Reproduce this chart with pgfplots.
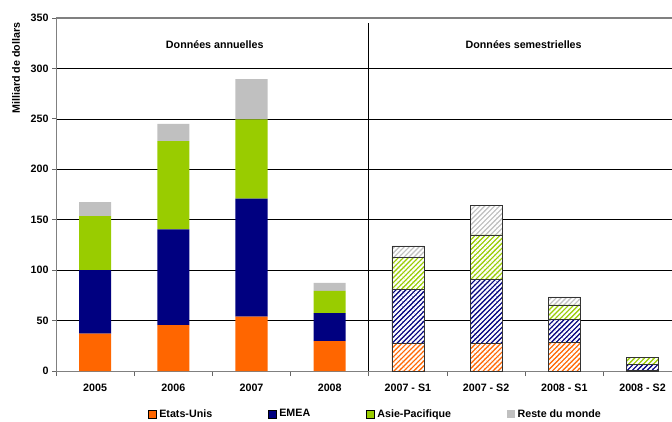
\documentclass[border=0pt]{standalone}
\usepackage{fontspec}
\setmainfont{Liberation Sans}
\usepackage{pgfplots}
\pgfplotsset{compat=1.18}
\usetikzlibrary{patterns.meta}
\definecolor{cUS}{RGB}{255,102,0}
\definecolor{cEMEA}{RGB}{0,0,128}
\definecolor{cAP}{RGB}{153,204,0}
\definecolor{cRM}{RGB}{192,192,192}
\newcommand{\ff}{\bfseries\fontsize{10.7}{12}\selectfont}
\pgfplotsset{
 common/.style={
  at={(56pt,50pt)}, anchor=south west,
  scale only axis, width=616pt, height=353pt,
  xmin=-0.5, xmax=7.377, ymin=0, ymax=350,
  ybar stacked, bar width=0.41,
 },
 hatch/.style={fill=#1, draw=black!80, line width=0.6pt,
   postaction={pattern={Lines[angle=45,distance=3.5pt,line width=2pt]}, pattern color=white}},
}
\begin{document}
\begin{tikzpicture}
\begin{axis}[common, clip=false,
  axis x line*=bottom, axis y line*=left,
  axis line style={draw=black!50, line width=1pt},
  ytick={0,50,...,350},
  ymajorgrids, grid style={black, line width=0.7pt},
  tick align=outside, major tick length=4pt,
  xtick={0,...,7},
  xticklabels={2005,2006,2007,2008,2007 - S1,2007 - S2,2008 - S1,2008 - S2},
  xtick style={draw=none},
  xticklabel style={yshift=-5pt},
  minor xtick={-0.5,0.5,...,6.5},
  minor tick length=5pt,
  minor x tick style={draw=black!60, line width=0.8pt},
  ytick style={draw=black!60, line width=0.8pt},
  tick label style={font=\ff},
  /pgf/number format/assume math mode=true,
  legend columns=4,
  legend entries={Etats-Unis,EMEA,Asie-Pacifique,Reste du monde},
  legend style={draw=none, fill=none, at={(0.1494,-0.1218)}, anchor=west,
    font=\ff, inner sep=0pt, nodes={inner sep=1pt},
    /tikz/every odd column/.append style={column sep=1.5pt},
    /tikz/every even column/.append style={column sep=55pt}},
  legend image code/.code={\draw[#1,draw=black,line width=0.6pt] (0pt,-4pt) rectangle (8pt,4pt);},
]
\addplot[fill=cUS, draw=none] coordinates {(0,37) (1,45.5) (2,54) (3,29.5)};
\addplot[fill=cEMEA, draw=none] coordinates {(0,63) (1,95) (2,117) (3,28)};
\addplot[fill=cAP, draw=none] coordinates {(0,53.5) (1,87.5) (2,78.5) (3,22)};
\addplot[fill=cRM, draw=none, legend image code/.code={\fill[cRM] (0pt,-4pt) rectangle (8pt,4pt);}] coordinates {(0,14) (1,17) (2,40) (3,8)};
\draw[black, line width=0.8pt] (axis cs:3.5,0) -- (axis cs:3.5,345);
\node[font=\ff] at (axis cs:1.53,324) {Données annuelles};
\node[font=\ff] at (axis cs:5.48,324) {Données semestrielles};
\node[font=\ff, rotate=90] at (axis description cs:-0.0649,0.858) {Milliard de dollars};
\draw[black!50, line width=2pt] (rel axis cs:0,1) -- (rel axis cs:1,1);
\end{axis}
\begin{axis}[common, hide axis]
\addplot[hatch=cUS] coordinates {(4,27) (5,27) (6,28) (7,0.7)};
\addplot[hatch=cEMEA] coordinates {(4,54) (5,63.5) (6,23) (7,5.5)};
\addplot[hatch=cAP] coordinates {(4,32) (5,44.5) (6,14.5) (7,7.5)};
\addplot[hatch=cRM] coordinates {(4,11) (5,29.5) (6,8) (7,0)};
\end{axis}
\pgfresetboundingbox
\useasboundingbox (0,0) rectangle (672pt,421pt);
\end{tikzpicture}
\end{document}
